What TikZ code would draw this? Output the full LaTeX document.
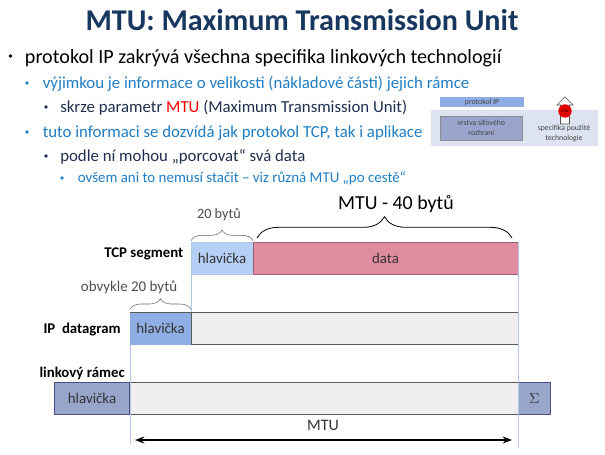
\documentclass[tikz,border=0pt]{standalone}
\usepackage{fontspec}
\setmainfont{Carlito}
\usetikzlibrary{decorations.pathreplacing,arrows.meta}
\definecolor{titleblue}{HTML}{17375E}
\definecolor{itemblue}{HTML}{1F7DC4}
\definecolor{itemdark}{HTML}{1F2F4F}
\definecolor{guideblue}{HTML}{B4C8EA}
\definecolor{tcpfill}{HTML}{B6D0F5}
\definecolor{ipfill}{HTML}{8FAEE3}
\definecolor{linkfill}{HTML}{98A6CC}
\definecolor{datafill}{HTML}{E08CA0}
\definecolor{payfill}{HTML}{F0EFED}
\definecolor{insetfill}{HTML}{DDE3F0}
\definecolor{layerfill}{HTML}{9AA4CC}
\tikzset{
	titletext/.style={anchor=base, inner sep=0pt, font=\bfseries\fontsize{22.6}{25}\selectfont, text=titleblue},
	listtext/.style={anchor=base west, inner sep=0pt, font=\fontsize{#1}{#1}\selectfont},
	bullet/.style={circle, fill=#1, inner sep=0pt, minimum size=2.8pt},
	cell/.style={anchor=north west, inner sep=0pt, outer sep=0pt, font=\fontsize{11.2}{13}\selectfont, text=black!80, minimum height=24.5pt},
	rowlabel/.style={anchor=base east, inner sep=0pt, font=\bfseries\fontsize{11.1}{13}\selectfont, text=black},
	sizelabel/.style={anchor=base, inner sep=0pt, font=\fontsize{#1}{13}\selectfont},
	guide/.style={guideblue, thin},
	sizebrace/.style={decorate, decoration={brace, amplitude=#1}},
	insettext/.style={align=center, font=\fontsize{5.8}{7.5}\selectfont, text=black!75},
}
\begin{document}
\begin{tikzpicture}[x=0.75pt, y=-0.75pt]
	\useasboundingbox (0, 0) rectangle (605, 454);
	\node[titletext] (title) at (302, 30) {MTU: Maximum Transmission Unit};
	\node[bullet=black] (b1) at (10.5, 56) {};
	\node[listtext=15.1, text=black] (t1) at (24.7, 63) {protokol IP zakrývá všechna specifika linkových technologií};
	\node[bullet=itemblue] (b2) at (27, 83) {};
	\node[listtext=12.6, text=itemblue] (t2) at (42.5, 88) {výjimkou je informace o velikosti (nákladové části) jejich rámce};
	\node[bullet=itemdark] (b3) at (46, 107) {};
	\node[listtext=12.6, text=itemdark] (t3) at (60, 112.5) {skrze parametr \textcolor{red}{MTU} (Maximum Transmission Unit)};
	\node[bullet=itemblue] (b4) at (27, 132) {};
	\node[listtext=12.6, text=itemblue] (t4) at (42.5, 137) {tuto informaci se dozvídá jak protokol TCP, tak i aplikace};
	\node[bullet=itemdark] (b5) at (46, 156) {};
	\node[listtext=12.6, text=itemdark] (t5) at (60, 161.5) {podle ní mohou „porcovat“ svá data};
	\node[bullet=itemblue] (b6) at (62, 178) {};
	\node[listtext=11.2, text=itemblue] (t6) at (77.5, 182.7) {ovšem ani to nemusí stačit – viz různá MTU „po cestě“};

	% inset
	\fill[insetfill] (431, 110) rectangle (598, 146);
	\node[cell, fill=ipfill, minimum width=63pt, minimum height=7.5pt, insettext] (inip) at (440, 97) {protokol IP};
	\node[cell, draw=black!45, fill=layerfill, minimum width=62pt, minimum height=18pt, insettext] (inlayer) at (440, 116) {vrstva síťového\\rozhraní};
	\draw[black!70, fill=white] (560.5, 124) -- (560.5, 105) -- (557, 105) -- (565, 97) -- (573, 105) -- (569.5, 105) -- (569.5, 124) -- cycle;
	\node[circle, fill=red!90!black, minimum size=10pt, inner sep=0pt, font=\fontsize{2.6}{3}\selectfont] (instop) at (565, 111) {STOP};
	\node[insettext] (inspec) at (564, 133) {specifika použité\\technologie};

	% segments
	\node[cell, fill=tcpfill, draw=guideblue, minimum width=46.5pt] (tcphead) at (191, 242) {hlavička};
	\node[cell, fill=datafill, draw=datafill!70!black, minimum width=198.75pt] (tcpdata) at (253, 242) {data};
	\node[cell, fill=ipfill, minimum width=45.75pt] (iphead) at (130, 312) {hlavička};
	\node[cell, fill=payfill, minimum width=245.25pt] (ipdata) at (191, 312) {};
	\node[cell, fill=linkfill, minimum width=56.25pt] (linkhead) at (54.5, 382) {hlavička};
	\node[cell, fill=payfill, minimum width=291pt] (linkdata) at (130, 382) {};
	\node[cell, fill=linkfill, minimum width=24.4pt] (linksum) at (518, 382) {$\Sigma$};
	\draw[black!65] (ipdata.north west) -- (ipdata.north east) (iphead.south east) -- (ipdata.south east);
	\draw[black!65] (linkhead.north west) -- (linksum.north west) (linkhead.south east) -- (linksum.south west);
	\draw[black!65] (iphead.north west) -- (iphead.north east) -- (iphead.south east);
	\draw[blue!30!black!70] (linkhead.north west) rectangle (linkhead.south east);
	\draw[blue!30!black!70] (linksum.north west) rectangle (linksum.south east);

	% guides
	\coordinate (guideleft) at (130, 444);
	\coordinate (guideright) at (518, 448);
	\draw[guide] (tcphead.south west) -- (iphead.north east);
	\draw[guide] (iphead.south west) -- (guideleft);
	\draw[guide] (tcpdata.north east) -- (guideright);

	% braces
	\draw[sizebrace=8pt, black!60] ([yshift=1pt]tcphead.north west) -- ([yshift=1pt]tcphead.north east);
	\node[sizelabel=10.7, text=black!70] (size20) at (219, 218) {20 bytů};
	\draw[sizebrace=8pt, black!60] ([yshift=2pt]iphead.north west) -- ([yshift=2pt]iphead.north east);
	\node[sizelabel=11.2, text=black!70] (size20b) at (129, 291.5) {obvykle 20 bytů};
	\coordinate (bracea) at (257, 238);
	\coordinate (braceb) at (512, 238);
	\draw[sizebrace=16pt, black, semithick] (bracea) -- (braceb);
	\node[sizelabel=14.9] (sizedata) at (396, 209) {MTU - 40 bytů};

	% row labels
	\node[rowlabel] (rowtcp) at (183.5, 257) {TCP segment};
	\node[rowlabel] (rowip) at (121, 333) {IP\ \ datagram};
	\node[rowlabel] (rowlink) at (125, 377) {linkový rámec};

	% mtu arrow
	\coordinate (arrowa) at (135, 440);
	\coordinate (arrowb) at (512, 440);
	\draw[{Stealth[length=7pt]}-{Stealth[length=7pt]}, black, line width=1.2pt] (arrowa) -- (arrowb);
	\node[sizelabel=12, text=black!80] (mtu) at (323, 430) {MTU};
\end{tikzpicture}
\end{document}
